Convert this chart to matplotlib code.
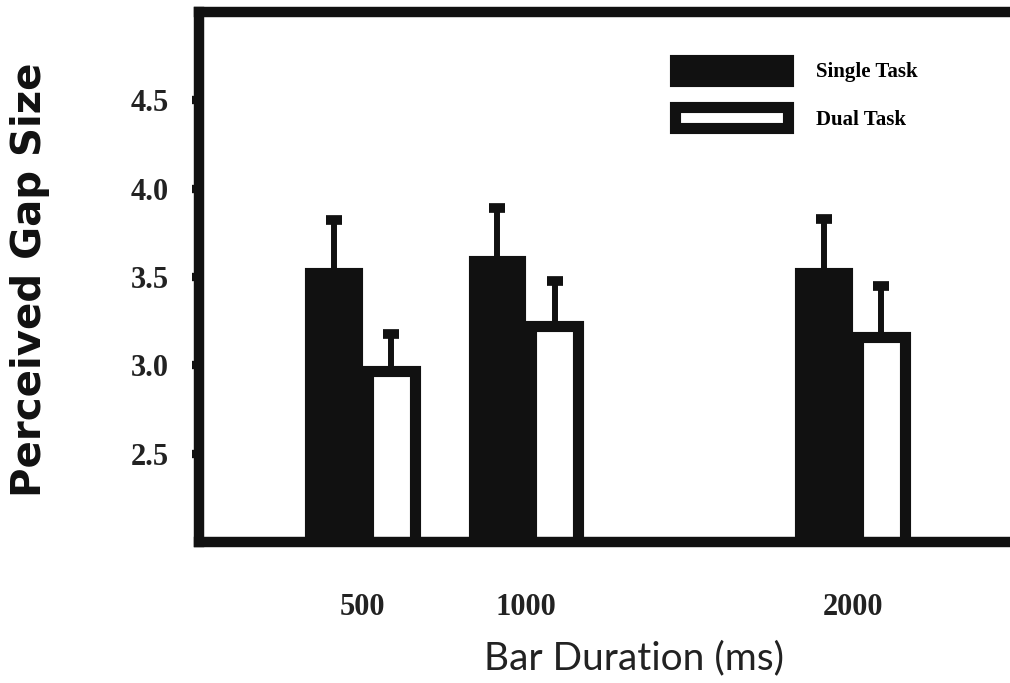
import numpy as np
import matplotlib.pyplot as plt

# data
durations = [500, 1000, 2000]
single_task = [3.52, 3.59, 3.52]
single_err = [0.30, 0.30, 0.31]
dual_task = [2.97, 3.22, 3.16]
dual_err = [0.21, 0.26, 0.29]
yticks = [2.5, 3.0, 3.5, 4.0, 4.5]

x = np.array(durations)
w = 143   # bar width in ms
off = 88  # half spacing between paired bars

fig = plt.figure(figsize=(10.1, 6.83), dpi=100)
ax = fig.add_axes([199/1010, 141/683, 817/1010, 530/683])

lw = 8
ax.bar(x - off, single_task, w, color='#111111', edgecolor='#111111', linewidth=lw,
       label='Single Task', zorder=2)
ax.bar(x + off, dual_task, w, color='white', edgecolor='#111111', linewidth=lw,
       label='Dual Task', zorder=2)

ax.errorbar(x - off, single_task, yerr=[np.zeros(3), single_err], fmt='none',
            ecolor='#111111', elinewidth=4.3, capsize=6, capthick=7, zorder=1)
ax.errorbar(x + off, dual_task, yerr=[np.zeros(3), dual_err], fmt='none',
            ecolor='#111111', elinewidth=4.3, capsize=6, capthick=7, zorder=1)

ax.set_xlim(0, 2500)
ax.set_ylim(2.0, 5.0)
ax.set_yticks(yticks)
ax.set_yticklabels([f'{v:.1f}' for v in yticks])
ax.set_xticks(durations)
ax.set_xticklabels([str(d) for d in durations])

for s in ['left', 'top', 'bottom']:
    ax.spines[s].set_linewidth(7.5)
    ax.spines[s].set_color('#111111')
ax.spines['right'].set_visible(False)

ax.tick_params(axis='y', length=5, width=6, color='#111111', pad=17)
ax.tick_params(axis='x', length=0, pad=37)
for lab in ax.get_yticklabels() + ax.get_xticklabels():
    lab.set_fontfamily('Liberation Serif')
    lab.set_fontweight('bold')
    lab.set_fontsize(22)
    lab.set_color('#222222')

ax.set_ylabel('Perceived Gap Size', fontsize=29, fontweight='bold',
              family='DejaVu Sans', color='#111111')
ax.yaxis.set_label_coords(-0.182, 0.494)
ax.set_xlabel('Bar Duration (ms)', fontsize=28, family=['Lato', 'DejaVu Sans'],
              fontweight='normal', color='#222222')
ax.xaxis.set_label_coords(0.532, -0.185)

leg = ax.legend(loc='upper left', bbox_to_anchor=(0.56, 0.945), frameon=False,
                prop={'family': 'Liberation Serif', 'weight': 'bold', 'size': 15},
                handlelength=5.4, handleheight=1.15, handletextpad=1.35,
                labelspacing=1.2)

fig.savefig('out.png', dpi=100)
